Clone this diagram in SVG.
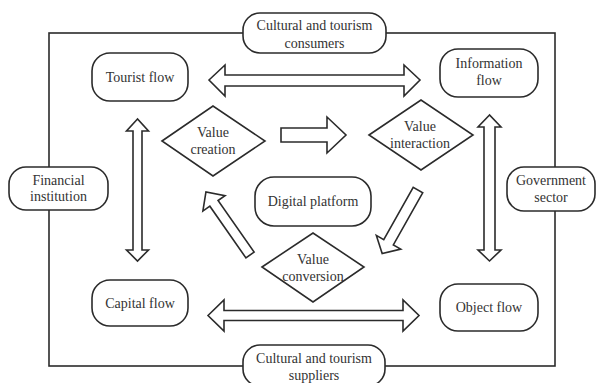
<svg xmlns="http://www.w3.org/2000/svg" width="596" height="383" viewBox="0 0 596 383">
<style>
.box{fill:#fff;stroke:#2b2b2b;stroke-width:1.6}
.arr{fill:#fff;stroke:#2b2b2b;stroke-width:1.6;stroke-linejoin:miter}
.frame{fill:none;stroke:#2b2b2b;stroke-width:1.6}
text{font-family:"Liberation Serif","Times New Roman",serif;font-size:14px;fill:#333;text-anchor:middle}
</style>
<rect width="596" height="383" fill="#fff"/>
<g id="connectors">
<rect class="frame" x="49" y="33" width="506" height="333"/>
<polygon class="arr" points="209,80 225,65 225,75 404,75 404,65 420,80 404,96 404,86 225,86 225,96"/>
<polygon class="arr" points="208,315.5 224,300 224,310.5 403,310.5 403,300 419,315.5 403,331 403,320.5 224,320.5 224,331"/>
<polygon class="arr" points="137.5,119 126.5,131 133,131 133,250 126.5,250 137.5,261 148.5,250 142,250 142,131 148.5,131"/>
<polygon class="arr" points="489.5,115 478,127 484,127 484,250 478,250 489.5,261 501,250 495,250 495,127 501,127"/>
<polygon class="arr" points="281,128 327,128 327,117 346,135 327,153 327,142 281,142"/>
<polygon class="arr" transform="translate(250,255) rotate(-124.9)" points="0,-5 63,-5 63,-13.5 77,0 63,13.5 63,5 0,5"/>
<polygon class="arr" transform="translate(418,190) rotate(119.4)" points="0,-5.5 60,-5.5 60,-14 73,0 60,14 60,5.5 0,5.5"/>
</g>
<g id="consumers">
<rect class="box" x="243" y="13" width="143" height="40" rx="17"/>
<text x="314.5" y="30">Cultural and tourism</text>
<text x="314.5" y="48">consumers</text>
</g>
<g id="suppliers">
<rect class="box" x="243" y="345" width="142" height="41" rx="17"/>
<text x="314" y="363">Cultural and tourism</text>
<text x="314" y="380">suppliers</text>
</g>
<g id="tourist-flow">
<rect class="box" x="92" y="53" width="96" height="48" rx="18"/>
<text x="140" y="82">Tourist flow</text>
</g>
<g id="information-flow">
<rect class="box" x="440" y="49" width="98" height="48" rx="18"/>
<text x="489" y="68">Information</text>
<text x="489" y="85">flow</text>
</g>
<g id="financial-institution">
<rect class="box" x="9" y="167" width="99" height="43" rx="17"/>
<text x="58.5" y="185">Financial</text>
<text x="58.5" y="201">institution</text>
</g>
<g id="government-sector">
<rect class="box" x="507" y="167" width="88" height="44" rx="17"/>
<text x="551" y="185">Government</text>
<text x="551" y="202">sector</text>
</g>
<g id="digital-platform">
<rect class="box" x="255" y="177" width="116" height="49" rx="19"/>
<text x="313" y="206">Digital platform</text>
</g>
<g id="capital-flow">
<rect class="box" x="92" y="280" width="96" height="46" rx="18"/>
<text x="140" y="308">Capital flow</text>
</g>
<g id="object-flow">
<rect class="box" x="440" y="284" width="98" height="47" rx="18"/>
<text x="489" y="312">Object flow</text>
</g>
<g id="value-creation">
<polygon class="box" points="162,141 213,106 265,141 213,176"/>
<text x="213" y="137">Value</text>
<text x="213" y="154">creation</text>
</g>
<g id="value-interaction">
<polygon class="box" points="369,135 421,100 473,135 421,170"/>
<text x="420" y="131">Value</text>
<text x="420" y="148">interaction</text>
</g>
<g id="value-conversion">
<polygon class="box" points="262,267 313,233 364,267 313,302"/>
<text x="313" y="264">Value</text>
<text x="313" y="281">conversion</text>
</g>
</svg>
